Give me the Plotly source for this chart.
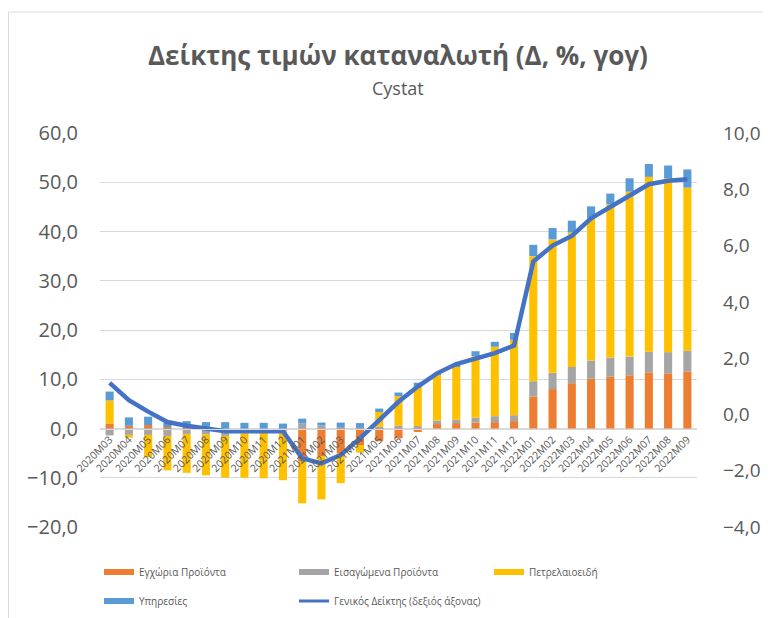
import plotly.graph_objects as go

months = ["2020M03", "2020M04", "2020M05", "2020M06", "2020M07", "2020M08", "2020M09", "2020M10",
          "2020M11", "2020M12", "2021M01", "2021M02", "2021M03", "2021M04", "2021M05", "2021M06",
          "2021M07", "2021M08", "2021M09", "2021M10", "2021M11", "2021M12", "2022M01", "2022M02",
          "2022M03", "2022M04", "2022M05", "2022M06", "2022M07", "2022M08", "2022M09"]

domestic = [1.0, 0.55, 0.7, 0.3, 0.1, 0.1, 0.0, 0.0, 0.0, 0.0,
            -6.6, -5.6, -5.0, -3.4, -2.6, -2.0, -0.7, 0.9, 1.1, 1.2, 1.3, 1.5,
            6.5, 8.0, 9.2, 10.1, 10.5, 10.8, 11.4, 11.2, 11.6]
imported = [-1.4, -1.3, -1.3, -1.5, -1.1, -1.2, -1.5, -1.0, -0.8, -0.6,
            1.0, 0.6, 0.3, 0.2, 0.35, 0.55, 0.5, 0.7, 0.7, 1.0, 1.2, 1.2,
            3.1, 3.3, 3.3, 3.7, 3.9, 3.8, 4.2, 4.3, 4.2]
petroleum = [4.7, -0.55, -4.5, -7.0, -7.9, -8.3, -8.5, -9.0, -9.3, -9.9,
             -8.6, -8.8, -6.1, -1.5, 3.0, 6.0, 8.0, 9.4, 10.8, 12.5, 14.1, 15.3,
             25.4, 27.1, 27.3, 28.9, 31.1, 33.5, 35.5, 35.3, 33.1]
services = [1.8, 1.7, 1.7, 0.9, 1.4, 1.2, 1.3, 1.15, 1.15, 1.0,
            1.0, 0.6, 0.9, 0.9, 0.7, 0.75, 0.8, 0.2, 0.2, 1.0, 1.0, 1.4,
            2.3, 2.3, 2.4, 2.4, 2.2, 2.7, 2.6, 2.6, 3.7]
general = [1.12, 0.51, 0.10, -0.27, -0.40, -0.49, -0.60, -0.60, -0.60, -0.60,
           -1.56, -1.74, -1.44, -0.85, -0.20, 0.45, 0.99, 1.46, 1.79, 1.97, 2.18, 2.45,
           5.43, 6.00, 6.34, 6.97, 7.38, 7.80, 8.18, 8.30, 8.36]

names = ["Εγχώρια Προϊόντα", "Εισαγώμενα Προϊόντα", "Πετρελαιοειδή", "Υπηρεσίες",
         "Γενικός Δείκτης (δεξιός άξονας)"]
colors = ["#ED7D31", "#A5A5A5", "#FFC000", "#5B9BD5", "#4472C4"]

FONT = "Open Sans"
GREY = "#595959"

fig = go.Figure()
series = [domestic, imported, petroleum, services]
for i, vals in enumerate(series):
    fig.add_trace(go.Bar(x=months, y=vals, name=names[i], showlegend=False,
                         marker=dict(color=colors[i], line=dict(width=0))))
fig.add_trace(go.Scatter(x=months, y=general, name=names[4], yaxis="y2", mode="lines",
                         line=dict(color=colors[4], width=4.5), showlegend=False))

# legend entries (Excel-style wide swatches)
for i in range(5):
    fig.add_trace(go.Scatter(x=[None], y=[None], name=names[i], mode="lines",
                             line=dict(color=colors[i], width=6 if i < 4 else 3),
                             legend="legend" if i < 3 else "legend2", showlegend=True))

# page has an 8px body margin: work in page pixels and convert
OFF = 8
W, H = 771 - OFF, 618 - OFF
H0, H1 = 133 - OFF, 527 - OFF  # plot top/bottom (figure px)
PH = H1 - H0
L, R = 100 - OFF, 697 - OFF
PW = R - L

def py(page_px):
    return (H1 - (page_px - OFF)) / PH

def pxx(page_px):
    return ((page_px - OFF) - L) / PW

fig.update_layout(
    width=W, height=H,
    margin=dict(l=L, r=W - R, t=H0, b=H - H1, autoexpand=False),
    paper_bgcolor="white", plot_bgcolor="white",
    barmode="relative", bargap=0.58,
    separators=",.",
    font=dict(family=FONT, color=GREY),
    xaxis=dict(type="category", anchor="free", position=0.25, showgrid=False, automargin=False,
               showline=True, linecolor="#D9D9D9", linewidth=1, ticks="",
               tickangle=-45, tickfont=dict(size=10.5, color=GREY), range=[-0.5, 30.5]),
    yaxis=dict(range=[-20, 60], dtick=10, tickformat=".1f", showgrid=True, gridcolor="#D9D9D9",
               gridwidth=1, zeroline=False, showline=False, ticks="", automargin=False,
               tickfont=dict(size=20, color=GREY), ticklabelstandoff=21),
    yaxis2=dict(range=[-4, 10], dtick=2, tickformat=".1f", overlaying="y", side="right",
                showgrid=False, zeroline=False, showline=False, ticks="", automargin=False,
                tickfont=dict(size=19, color=GREY), ticklabelstandoff=25),
    legend=dict(orientation="h", x=pxx(99), xanchor="left", y=py(572), yanchor="middle",
                entrywidth=150, entrywidthmode="pixels", font=dict(size=10, color=GREY),
                bgcolor="rgba(0,0,0,0)"),
    legend2=dict(orientation="h", x=pxx(99), xanchor="left", y=py(601), yanchor="middle",
                 entrywidth=150, entrywidthmode="pixels", font=dict(size=10, color=GREY),
                 bgcolor="rgba(0,0,0,0)"),
    showlegend=True,
)

fig.add_annotation(text="<b>Δείκτης τιμών καταναλωτή (Δ, %, γογ)</b>", xref="paper", yref="paper",
                   x=pxx(398), y=py(55), xanchor="center", yanchor="middle", showarrow=False,
                   font=dict(size=26, color=GREY, family=FONT))
fig.add_annotation(text="Cystat", xref="paper", yref="paper",
                   x=pxx(398), y=py(88), xanchor="center", yanchor="middle", showarrow=False,
                   font=dict(size=18, color=GREY, family=FONT))

fig.add_shape(type="rect", xref="paper", yref="paper", x0=pxx(8.5), x1=pxx(800), y0=py(650), y1=py(12),
              line=dict(color="#D9D9D9", width=1), fillcolor="rgba(0,0,0,0)", layer="below")

fig.write_html("out.html")
